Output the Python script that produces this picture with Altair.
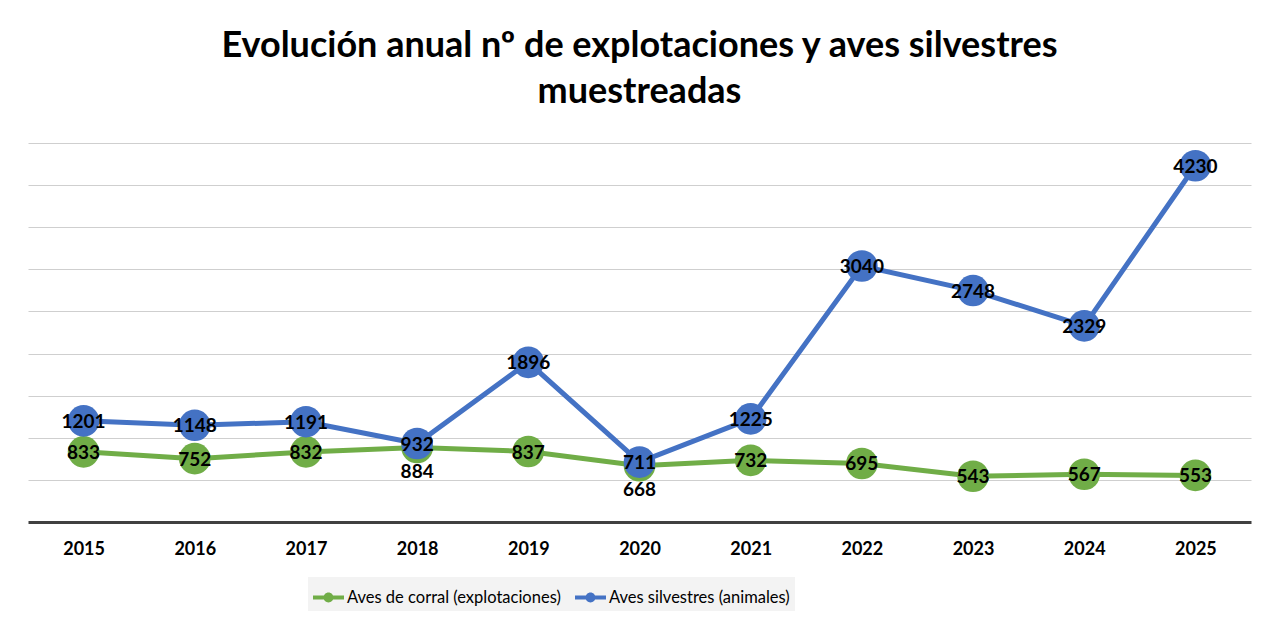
import altair as alt
import pandas as pd

years = ["2015", "2016", "2017", "2018", "2019", "2020", "2021", "2022", "2023", "2024", "2025"]
corral = [833, 752, 832, 884, 837, 668, 732, 695, 543, 567, 553]
silvestres = [1201, 1148, 1191, 932, 1896, 711, 1225, 3040, 2748, 2329, 4230]
s_corral = "Aves de corral (explotaciones)"
s_silv = "Aves silvestres (animales)"

rows = []
for i, y in enumerate(years):
    rows.append({"year": y, "series": s_corral, "value": corral[i], "other": silvestres[i]})
    rows.append({"year": y, "series": s_silv, "value": silvestres[i], "other": corral[i]})
df = pd.DataFrame(rows)

FONT = "Lato"
cscale = alt.Scale(domain=[s_corral, s_silv], range=["#70AD47", "#4472C4"])

x = alt.X("year:O", title=None, scale=alt.Scale(paddingOuter=0.5),
          axis=alt.Axis(labelAngle=0, labelFontWeight="bold", labelFontSize=18, labelFont=FONT,
                        labelColor="#000000", ticks=False, domainColor="#404040", domainWidth=3,
                        labelPadding=18, grid=False))
y = alt.Y("value:Q", title=None, scale=alt.Scale(domain=[0, 4500], nice=False),
          axis=alt.Axis(labels=False, ticks=False, domain=False, gridColor="#cfcfcf", gridWidth=1.2,
                        values=[500, 1000, 1500, 2000, 2500, 3000, 3500, 4000, 4500]))

sym = ("M -1 -0.13 L 1 -0.13 L 1 0.13 L -1 0.13 Z "
       "M -0.32 0 A 0.32 0.32 0 1 1 0.32 0 A 0.32 0.32 0 1 1 -0.32 0 Z")

legend = alt.Legend(title=None, orient="none", direction="horizontal",
                    legendX=280, legendY=434, symbolType=sym, symbolSize=961,
                    symbolStrokeWidth=0, symbolOpacity=1, labelFont=FONT, labelFontSize=16.5,
                    labelColor="#000000", labelOffset=3, columnPadding=14, labelLimit=0,
                    fillColor="#f3f3f3", padding=5)

layers = []
for s in [s_corral, s_silv]:
    base = alt.Chart(df).transform_filter(alt.datum.series == s)
    line = base.mark_line(strokeWidth=5).encode(
        x=x, y=y, color=alt.Color("series:N", scale=cscale, legend=legend))
    pts = base.mark_point(filled=True, size=1000, opacity=1).encode(
        x=x, y=y, color=alt.Color("series:N", scale=cscale, legend=legend))
    layers += [line, pts]

lab = alt.Chart(df).transform_calculate(
    dy="datum.series == '" + s_corral + "' && abs(datum.value - datum.other) < 100 ? 1 : 0"
)
lab_center = lab.transform_filter(alt.datum.dy == 0).mark_text(
    font=FONT, fontSize=19, fontWeight="bold", color="#000000", baseline="middle", dy=1
).encode(x=x, y=y, text="value:Q")
lab_below = lab.transform_filter(alt.datum.dy == 1).mark_text(
    font=FONT, fontSize=19, fontWeight="bold", color="#000000", baseline="middle", dy=24
).encode(x=x, y=y, text="value:Q")

chart = alt.layer(*layers, lab_center, lab_below).properties(
    width=1223, height=379,
    title=alt.TitleParams(["Evolución anual nº de explotaciones y aves silvestres", "muestreadas"],
                          font=FONT, fontSize=36, fontWeight="bold", color="#000000",
                          anchor="middle", lineHeight=46, offset=32),
    autosize=alt.AutoSizeParams(type="none"),
    padding={"left": 20, "top": 135, "right": 9, "bottom": 90},
    background="#ffffff",
).configure_view(stroke=None)

chart.save("out.html", embed_options={"renderer": "svg", "actions": False})
